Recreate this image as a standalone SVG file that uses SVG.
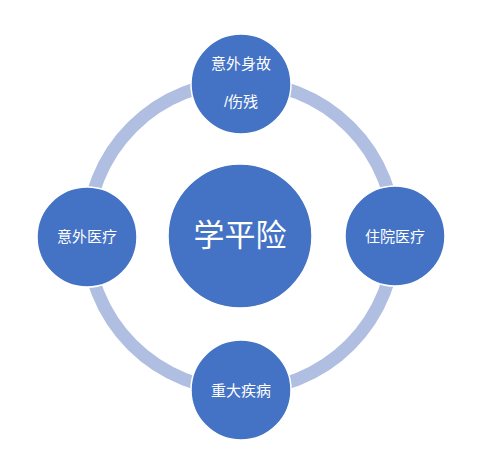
<svg xmlns="http://www.w3.org/2000/svg" width="483" height="458" viewBox="0 0 483 458">
<style>
.node{fill:#4472c4;stroke:#ffffff;stroke-width:1.5}
.lbl{fill:#ffffff;font-family:"Liberation Sans","Noto Sans CJK SC",sans-serif;font-size:15px;text-anchor:middle;dominant-baseline:central}
.big{font-size:31px}
.ring{fill:none;stroke:#b0bfe1;stroke-width:13}
</style>
<rect width="483" height="458" fill="#ffffff"/>
<g id="connectors">
<circle class="ring" cx="241" cy="236" r="154"/>
</g>
<g id="center">
<circle class="node" cx="240" cy="236" r="72"/>
<text class="lbl big" x="240" y="235">学平险</text>
</g>
<g id="top">
<circle class="node" cx="241" cy="84" r="50"/>
<text class="lbl" x="241" y="63">意外身故</text>
<text class="lbl" x="241" y="101">/伤残</text>
</g>
<g id="left">
<circle class="node" cx="87" cy="237" r="50"/>
<text class="lbl" x="87" y="236">意外医疗</text>
</g>
<g id="right">
<circle class="node" cx="395" cy="236" r="50"/>
<text class="lbl" x="395" y="236">住院医疗</text>
</g>
<g id="bottom">
<circle class="node" cx="241" cy="390" r="50"/>
<text class="lbl" x="241" y="390">重大疾病</text>
</g>
</svg>
